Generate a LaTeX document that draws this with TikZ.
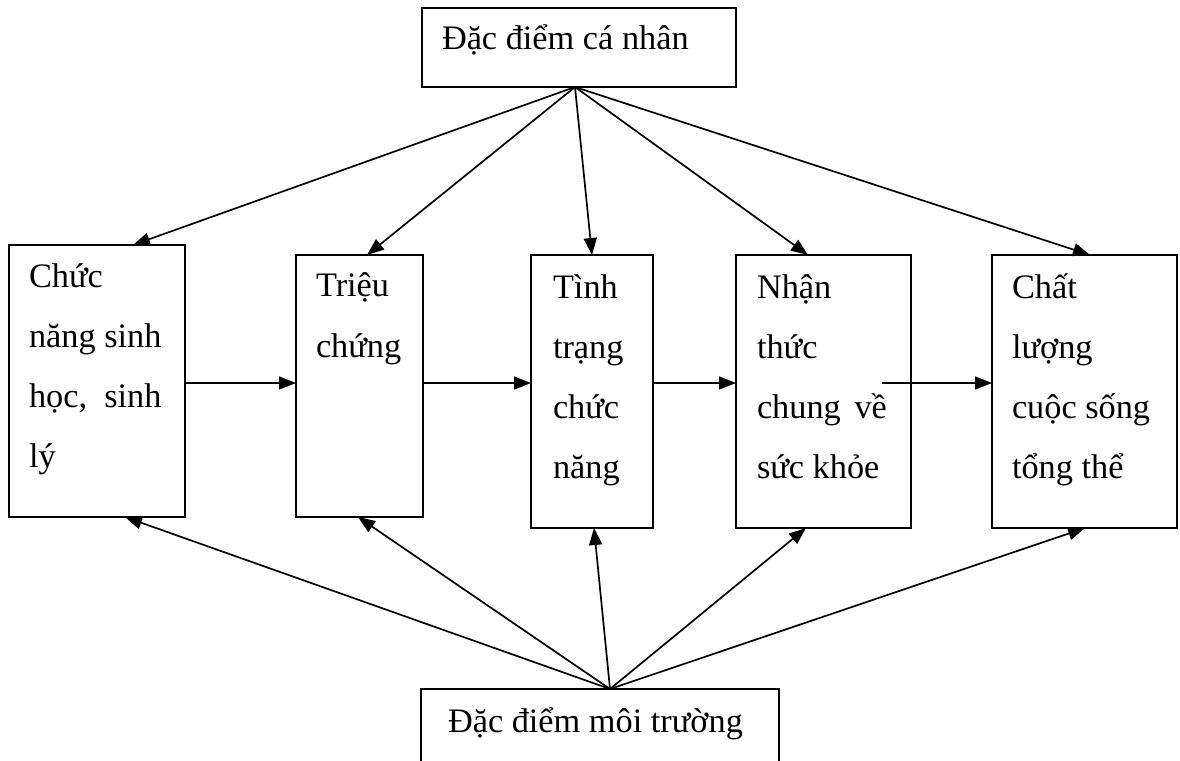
\documentclass[tikz,border=0pt]{standalone}
\usepackage{fontspec}
\setmainfont{Liberation Serif}
\usetikzlibrary{arrows.meta}
\newlength\jwidth
\begin{document}
\begin{tikzpicture}[x=1pt,y=-1pt,
  box/.style={draw, line width=1.7pt, rectangle, inner sep=0pt, outer sep=0pt, anchor=north west},
  lbl/.style={anchor=base west, inner sep=0pt, outer sep=0pt, font=\fontsize{34.3}{40}\selectfont},
  arr/.style={draw, line width=1.7pt, -{Triangle[length=17pt,width=13pt]}}]
\useasboundingbox (0,0) rectangle (1180,760);
\clip (0,0) rectangle (1180,760);
% boxes
\node[box, minimum width=314pt, minimum height=79pt] (top) at (422,8) {};
\node[box, minimum width=358pt, minimum height=120pt] (bot) at (421,689) {};
\node[box, minimum width=176pt, minimum height=272pt] (b1) at (9,245) {};
\node[box, minimum width=127pt, minimum height=262pt] (b2) at (296,255) {};
\node[box, minimum width=122pt, minimum height=273pt] (b3) at (531,255) {};
\node[box, minimum width=175pt, minimum height=273pt] (b4) at (736,255) {};
\node[box, minimum width=185pt, minimum height=273pt] (b5) at (992,255) {};
% texts
\node[lbl] (ttop) at (442,50) {Đặc điểm cá nhân};
\node[lbl] (tbot) at (448,732) {Đặc điểm môi trường};
\node[lbl] (t1a) at (29,287) {Chức};
\node[lbl] (t1b) at (29,347) {năng sinh};
\node[lbl] (t1c) at (29,407) {\settowidth{\jwidth}{năng sinh}\makebox[\jwidth][s]{học, sinh}};
\node[lbl] (t1d) at (29,467) {lý};
\node[lbl] (t2a) at (316,296) {Triệu};
\node[lbl] (t2b) at (316,357) {chứng};
\node[lbl] (t3a) at (553,298) {Tình};
\node[lbl] (t3b) at (553,358) {trạng};
\node[lbl] (t3c) at (553,418) {chức};
\node[lbl] (t3d) at (553,478) {năng};
\node[lbl] (t4a) at (757,298) {Nhận};
\node[lbl] (t4b) at (757,358) {thức};
\node[lbl] (t4c) at (757,418) {chung\hspace{0.4em}về};
\node[lbl] (t4d) at (757,478) {sức khỏe};
\node[lbl] (t5a) at (1012,298) {Chất};
\node[lbl] (t5b) at (1012,358) {lượng};
\node[lbl] (t5c) at (1012,418) {cuộc sống};
\node[lbl] (t5d) at (1012,478) {tổng thể};
% helper coordinates
\coordinate (hy) at (0,383);
\coordinate (s45) at (882,383);
% top arrows
\draw[arr] ([xshift=-4pt]top.south) -- ([xshift=36pt]b1.north);
\draw[arr] ([xshift=-4pt]top.south) -- ([xshift=7.5pt]b2.north);
\draw[arr] ([xshift=-4pt]top.south) -- (b3.north);
\draw[arr] ([xshift=-4pt]top.south) -- ([xshift=-15.5pt]b4.north);
\draw[arr] ([xshift=-4pt]top.south) -- ([xshift=5.5pt]b5.north);
% bottom arrows
\draw[arr] ([xshift=10pt]bot.north) -- ([xshift=28pt]b1.south);
\draw[arr] ([xshift=10pt]bot.north) -- ([xshift=-1.5pt]b2.south);
\draw[arr] ([xshift=10pt]bot.north) -- ([xshift=2pt]b3.south);
\draw[arr] ([xshift=10pt]bot.north) -- ([xshift=-17.5pt]b4.south);
\draw[arr] ([xshift=10pt]bot.north) -- ([xshift=0.5pt]b5.south);
% horizontal arrows
\draw[arr] (b1.east |- hy) -- (b2.west |- hy);
\draw[arr] (b2.east |- hy) -- (b3.west |- hy);
\draw[arr] (b3.east |- hy) -- (b4.west |- hy);
\draw[arr] (s45) -- (b5.west |- hy);
\end{tikzpicture}
\end{document}
